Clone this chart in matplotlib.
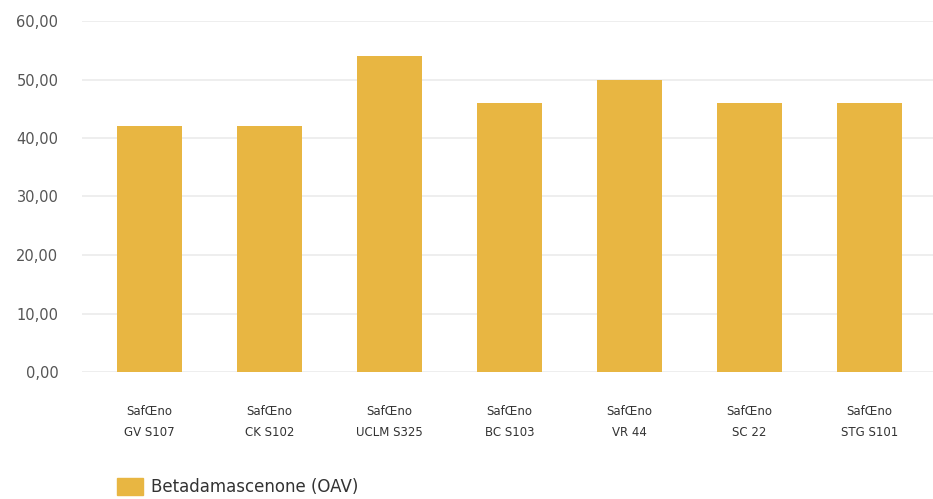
import matplotlib
matplotlib.use("Agg")
import matplotlib.pyplot as plt
from matplotlib.patches import Patch

categories = ["SafŒno\nGV S107", "SafŒno\nCK S102", "SafŒno\nUCLM S325", "SafŒno\nBC S103",
              "SafŒno\nVR 44", "SafŒno\nSC 22", "SafŒno\nSTG S101"]
values = [42, 42, 54, 46, 50, 46, 46]
yticks = [0, 10, 20, 30, 40, 50, 60]
series_name = "Betadamascenone (OAV)"

color = "#E8B642"
fig = plt.figure(figsize=(9.33, 4.99), dpi=100)
ax = fig.add_axes([82/933, (499-372)/499, (933-82)/933, (372-21)/499])
x = list(range(len(categories)))
ax.bar(x, values, width=0.54, color=color, zorder=2)
ax.set_xlim(-0.56, 6.53)
ax.set_ylim(0, 60)
ax.set_yticks(yticks)
ax.set_yticklabels([f"{v:.2f}".replace(".", ",") for v in yticks], fontsize=10.5, color="#555555")
ax.set_xticks(x)
ax.set_xticklabels(categories, fontsize=8.5, color="#333333", linespacing=1.75)
ax.tick_params(axis="both", length=0)
ax.tick_params(axis="y", pad=17)
ax.tick_params(axis="x", pad=24)
ax.grid(axis="y", color="#ebebeb", linewidth=1.2, zorder=0)
for s in ax.spines.values():
    s.set_visible(False)

fig.legend(handles=[Patch(color=color, label=series_name)], loc="center left",
           bbox_to_anchor=(117/933, 1 - 487/499), frameon=False, fontsize=12,
           borderaxespad=0, borderpad=0,
           handlelength=1.55, handleheight=1.2, handletextpad=0.5, labelcolor="#333333")
fig.savefig("out.png", dpi=100)
